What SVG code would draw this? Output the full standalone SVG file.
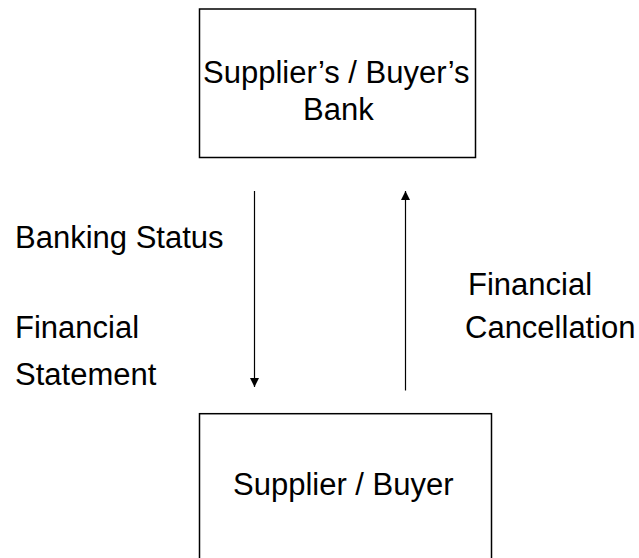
<svg xmlns="http://www.w3.org/2000/svg" width="639" height="558" viewBox="0 0 639 558">
<defs>
<style>
.box{fill:#fff;stroke:#000;stroke-width:1.5}
.t{font-family:"Liberation Sans",Arial,sans-serif;font-size:31px;fill:#000}
.ln{stroke:#000;stroke-width:1.2;fill:none}
</style>
<marker id="ah" viewBox="0 0 10 10" refX="10" refY="5" markerWidth="10" markerHeight="9" markerUnits="userSpaceOnUse" orient="auto">
<path d="M0,0 L10,5 L0,10 Z" fill="#000"/>
</marker>
</defs>
<rect width="639" height="558" fill="#fff"/>
<g id="bank">
<rect class="box" x="199.5" y="9" width="276" height="148.5"/>
<text class="t" x="203" y="83">Supplier’s / Buyer’s</text>
<text class="t" x="303" y="120">Bank</text>
</g>
<g id="supplier">
<rect class="box" x="199.5" y="413.7" width="292" height="160"/>
<text class="t" x="233" y="495">Supplier / Buyer</text>
</g>
<g id="connectors">
<line class="ln" x1="254.5" y1="191" x2="254.5" y2="387" marker-end="url(#ah)"/>
<line class="ln" x1="405.5" y1="390.5" x2="405.5" y2="191" marker-end="url(#ah)"/>
</g>
<g id="labels">
<text class="t" x="15" y="248">Banking Status</text>
<text class="t" x="15" y="338">Financial</text>
<text class="t" x="15" y="385">Statement</text>
<text class="t" x="468" y="295">Financial</text>
<text class="t" x="465" y="338">Cancellation</text>
</g>
</svg>
